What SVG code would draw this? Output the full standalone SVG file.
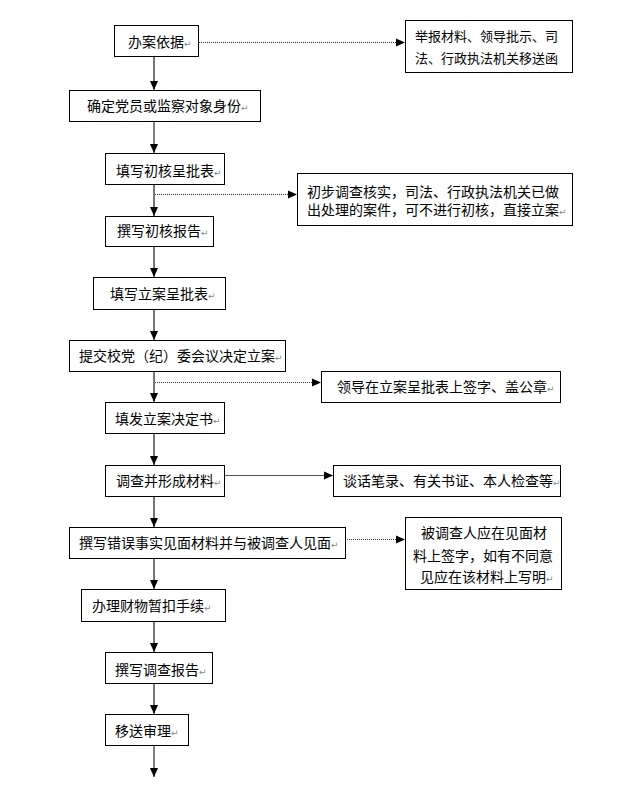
<svg xmlns="http://www.w3.org/2000/svg" width="636" height="788" viewBox="0 0 636 788">
<style>
rect{fill:#fff;stroke:#000;stroke-width:1}
text{font-family:"Noto Sans CJK SC","Liberation Sans",sans-serif;font-size:14px;fill:#000}
.s13{font-size:13px}
.pm{font-family:"DejaVu Sans",sans-serif;font-size:9px;fill:#888}
.v{stroke:#555;stroke-width:1.6;fill:none}
.d{stroke:#333;stroke-width:1;stroke-dasharray:1 1;fill:none}
.h{stroke:#555;stroke-width:1;fill:none}
</style>
<defs>
<marker id="ah" markerUnits="userSpaceOnUse" markerWidth="9" markerHeight="9" viewBox="0 0 9 8" refX="9" refY="4" orient="auto">
<path d="M0,0 L9,4 L0,8 z" fill="#000"/>
</marker>
</defs>
<rect width="636" height="788" style="fill:#fff;stroke:none"/>
<g id="connectors">
<line class="v" x1="154" y1="56" x2="154" y2="90" marker-end="url(#ah)"/>
<line class="v" x1="154" y1="121" x2="154" y2="153" marker-end="url(#ah)" style="stroke:#000;stroke-width:1"/>
<line class="v" x1="154" y1="184" x2="154" y2="216" marker-end="url(#ah)"/>
<line class="v" x1="154" y1="246" x2="154" y2="277" marker-end="url(#ah)"/>
<line class="v" x1="154" y1="309" x2="154" y2="340" marker-end="url(#ah)"/>
<line class="v" x1="154" y1="371" x2="154" y2="402" marker-end="url(#ah)"/>
<line class="v" x1="154" y1="433" x2="154" y2="465" marker-end="url(#ah)"/>
<line class="v" x1="154" y1="496" x2="154" y2="527" marker-end="url(#ah)"/>
<line class="v" x1="154" y1="559" x2="154" y2="589" marker-end="url(#ah)"/>
<line class="v" x1="154" y1="621" x2="154" y2="652" marker-end="url(#ah)"/>
<line class="v" x1="154" y1="683" x2="154" y2="714" marker-end="url(#ah)"/>
<line class="v" x1="154" y1="745" x2="154" y2="777" marker-end="url(#ah)" style="stroke:#000;stroke-width:1"/>
<line class="d" x1="199" y1="42.5" x2="405" y2="42.5" marker-end="url(#ah)"/>
<line class="d" x1="155" y1="194.5" x2="297" y2="194.5" marker-end="url(#ah)"/>
<line class="d" x1="155" y1="382.5" x2="321" y2="382.5" marker-end="url(#ah)"/>
<line class="h" x1="225" y1="475.5" x2="333" y2="475.5" marker-end="url(#ah)"/>
<line class="d" x1="347" y1="539.5" x2="405" y2="539.5" marker-end="url(#ah)"/>
</g>
<g id="n1"><rect x="114.5" y="25.5" width="84" height="31"/><text x="128" y="47">办案依据<tspan class="pm">↵</tspan></text></g>
<g id="n1r"><rect x="405.5" y="20.5" width="167" height="52"/><text class="s13" x="415" y="41">举报材料、领导批示、司</text><text class="s13" x="415" y="63">法、行政执法机关移送函</text></g>
<g id="n2"><rect x="69.5" y="90.5" width="191" height="31"/><text x="87" y="111">确定党员或监察对象身份<tspan class="pm">↵</tspan></text></g>
<g id="n3"><rect x="105.5" y="153.5" width="119" height="31"/><text x="116" y="175.5">填写初核呈批表<tspan class="pm">↵</tspan></text></g>
<g id="n3r"><rect x="297.5" y="173.5" width="275" height="52"/><text x="307" y="196.5">初步调查核实，司法、行政执法机关已做</text><text x="307" y="215">出处理的案件，可不进行初核，直接立案<tspan class="pm">↵</tspan></text></g>
<g id="n4"><rect x="105.5" y="216.5" width="108" height="30"/><text x="117" y="235.5">撰写初核报告<tspan class="pm">↵</tspan></text></g>
<g id="n5"><rect x="93.5" y="277.5" width="132" height="32"/><text x="110" y="298.5">填写立案呈批表<tspan class="pm">↵</tspan></text></g>
<g id="n6"><rect x="69.5" y="340.5" width="216" height="31"/><text x="79" y="361">提交校党（纪）委会议决定立案<tspan class="pm">↵</tspan></text></g>
<g id="n6r"><rect x="321.5" y="371.5" width="239" height="31"/><text x="337" y="391.5">领导在立案呈批表上签字、盖公章<tspan class="pm">↵</tspan></text></g>
<g id="n7"><rect x="105.5" y="402.5" width="119" height="31"/><text x="115" y="423.5">填发立案决定书<tspan class="pm">↵</tspan></text></g>
<g id="n8"><rect x="105.5" y="465.5" width="119" height="31"/><text x="116" y="486">调查并形成材料<tspan class="pm">↵</tspan></text></g>
<g id="n8r"><rect x="333.5" y="465.5" width="227" height="31"/><text x="343" y="486">谈话笔录、有关书证、本人检查等<tspan class="pm">↵</tspan></text></g>
<g id="n9"><rect x="69.5" y="527.5" width="276" height="31"/><text x="79" y="548">撰写错误事实见面材料并与被调查人见面<tspan class="pm">↵</tspan></text></g>
<g id="n9r"><rect x="405.5" y="517.5" width="156" height="72"/><text x="421" y="538">被调查人应在见面材</text><text x="413" y="561">料上签字，如有不同意</text><text x="420" y="582">见应在该材料上写明<tspan class="pm">↵</tspan></text></g>
<g id="n10"><rect x="81.5" y="589.5" width="144" height="32"/><text x="92" y="610.5">办理财物暂扣手续<tspan class="pm">↵</tspan></text></g>
<g id="n11"><rect x="105.5" y="652.5" width="107" height="31"/><text x="115" y="674.5">撰写调查报告<tspan class="pm">↵</tspan></text></g>
<g id="n12"><rect x="105.5" y="714.5" width="83" height="31"/><text x="115" y="736">移送审理<tspan class="pm">↵</tspan></text></g>
</svg>
